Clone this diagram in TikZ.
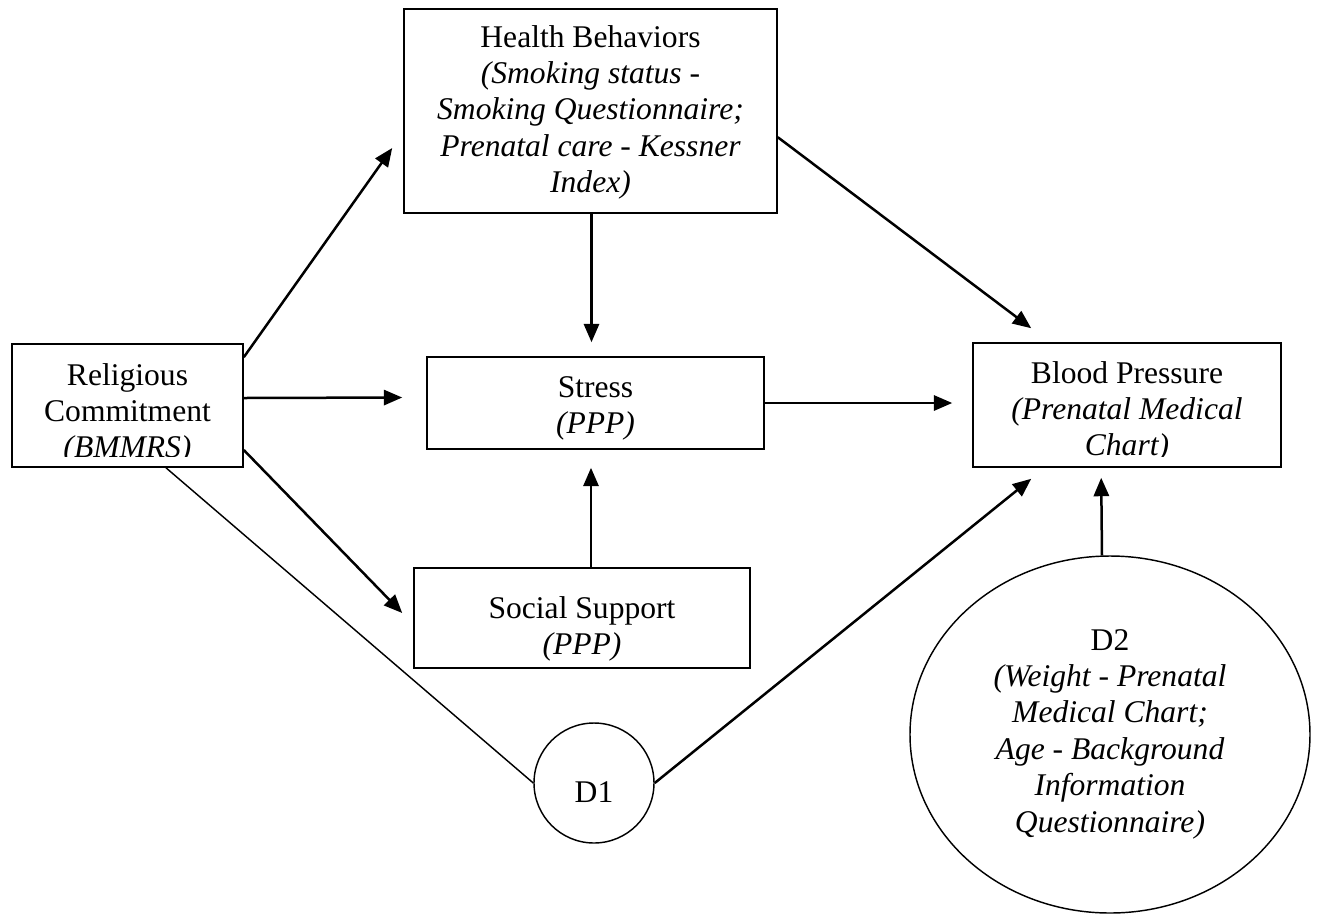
\documentclass[tikz,border=0pt]{standalone}
\usepackage{fontspec}
\setmainfont{Liberation Serif}
\usetikzlibrary{arrows.meta,calc,shapes.geometric}
\tikzset{
  x=0.38pt, y=-0.38pt,
  box/.style={draw, line width=0.6pt, rectangle, inner sep=0pt},
  oval/.style={draw, line width=0.55pt, ellipse, inner sep=0pt},
  txt/.style={inner sep=0pt, anchor=base, align=flush center, text width=150pt,
              font=\fontsize{12}{13.85}\selectfont},
  arr/.style={line width=0.95pt, -{Triangle[length=7pt,width=5.8pt]}},
  plain/.style={line width=0.55pt}
}
\begin{document}
\begin{tikzpicture}
\useasboundingbox (0,0) rectangle (1317,914);
% boxes
\node[box, minimum width=231*0.38pt, minimum height=123*0.38pt] (rc) at (127.5,405.5) {};
\node[box, minimum width=373*0.38pt, minimum height=204*0.38pt] (hb) at (590.5,111) {};
\node[box, minimum width=337*0.38pt, minimum height=92*0.38pt] (st) at (595.5,403) {};
\node[box, minimum width=336*0.38pt, minimum height=100*0.38pt] (ss) at (582,618) {};
\node[box, minimum width=308*0.38pt, minimum height=124*0.38pt] (bp) at (1127,405) {};
\node[oval, minimum width=120*0.38pt, minimum height=120*0.38pt] (d1) at (594,783) {};
\node[oval, minimum width=400*0.38pt, minimum height=357*0.38pt] (d2) at (1110,734.5) {};
% texts
\begin{scope}
\clip (rc.north west) rectangle ($(rc.south east)+(0,-11)$);
\node[txt] (rctext) at (127.5,385) {Religious\\Commitment\\\itshape(BMMRS)};
\end{scope}
\begin{scope}
\clip (bp.north west) rectangle ($(bp.south east)+(0,-11)$);
\node[txt] (bptext) at (1127,383) {Blood Pressure\\\itshape(Prenatal Medical\\\itshape Chart)};
\end{scope}
\node[txt] (hbtext) at (590.5,47) {Health Behaviors\\\itshape(Smoking status -\\\itshape Smoking Questionnaire;\\\itshape Prenatal care - Kessner\\\itshape Index)};
\node[txt] (sttext) at (595.5,397) {Stress\\\itshape(PPP)};
\node[txt] (sstext) at (582,618) {Social Support\\\itshape(PPP)};
\node[txt] (d1text) at (594,802) {D1};
\node[txt] (d2text) at (1110,650) {D2\\\itshape(Weight - Prenatal\\\itshape Medical Chart;\\\itshape Age - Background\\\itshape Information\\\itshape Questionnaire)};
% connectors
\draw[arr] ($(rc.north east)+(0,14)$) -- ($(hb.west)+(-11,37)$);
\draw[arr] ($(rc.east)+(0,-7.5)$) -- ($(st.west)+(-24,-5.5)$);
\draw[arr] ($(rc.east)+(0,44.5)$) -- ($(ss.west)+(-11,-5)$);
\draw[plain] ($(rc.south)+(38.5,0)$) -- (d1.west);
\draw[arr] ($(hb.south)+(1,0)$) -- ($(st.north)+(-4,-14)$);
\draw[arr] ($(hb.north east)+(0,129)$) -- ($(bp.north west)+(59,-14)$);
\draw[arr] (st.east) -- ($(bp.west)+(-20,-2)$);
\draw[arr] ($(ss.north)+(9,0)$) -- ($(st.south)+(-4.5,18)$);
\draw[arr] (d1.east) -- ($(bp.south west)+(59,11)$);
\draw[arr] ($(d2.north)+(-8,0)$) -- ($(bp.south west)+(129,10)$);
\end{tikzpicture}
\end{document}
